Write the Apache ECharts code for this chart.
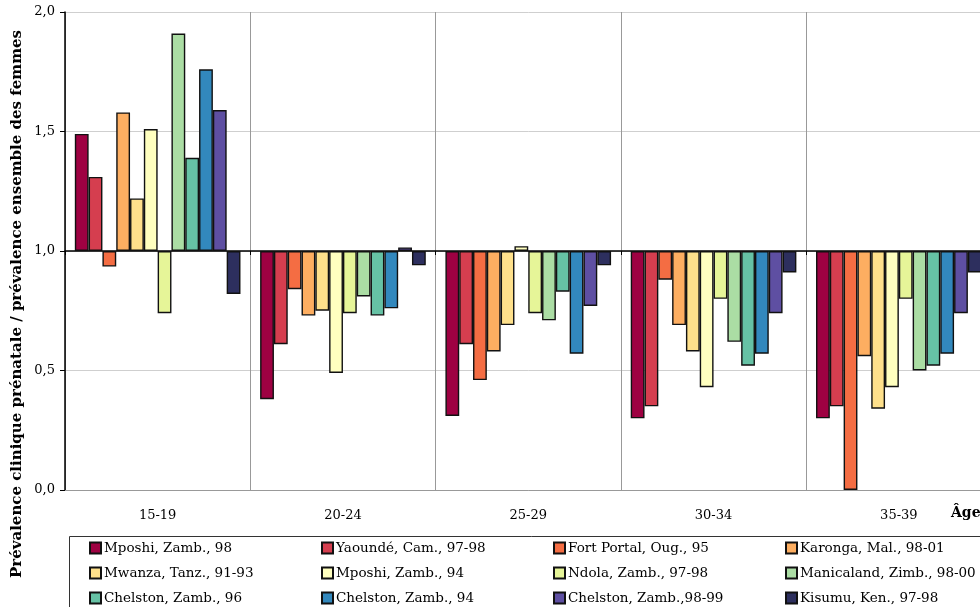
<!DOCTYPE html>
<html><head><meta charset="utf-8">
<script src="https://cdn.jsdelivr.net/npm/echarts@6/dist/echarts.min.js"></script>
<style>html,body{margin:0;padding:0;background:#fff;overflow:hidden;width:980px;height:607px}#c{width:992px;height:607px}</style>
</head><body><div id="c"></div>
<script>
const categories = ['15-19', '20-24', '25-29', '30-34', '35-39'];
const seriesNames = ['Mposhi, Zamb., 98', 'Yaoundé, Cam., 97-98', 'Fort Portal, Oug., 95', 'Karonga, Mal., 98-01',
  'Mwanza, Tanz., 91-93', 'Mposhi, Zamb., 94', 'Ndola, Zamb., 97-98', 'Manicaland, Zimb., 98-00',
  'Chelston, Zamb., 96', 'Chelston, Zamb., 94', 'Chelston, Zamb.,98-99', 'Kisumu, Ken., 97-98'];
const colors = ['#9e0142', '#d53e4f', '#f46d43', '#fdae61', '#fee08b', '#ffffbf', '#e6f598', '#abdda4',
  '#66c2a5', '#3288bd', '#5e4fa2', '#2d2f5e'];
const mposhi98 = [1.49, 0.38, 0.31, 0.30, 0.30];
const yaounde = [1.31, 0.61, 0.61, 0.35, 0.35];
const fortPortal = [0.935, 0.84, 0.46, 0.88, 0.0];
const karonga = [1.58, 0.73, 0.58, 0.69, 0.56];
const mwanza = [1.22, 0.75, 0.69, 0.58, 0.34];
const mposhi94 = [1.51, 0.49, 1.02, 0.43, 0.43];
const ndola = [0.74, 0.74, 0.74, 0.80, 0.80];
const manicaland = [1.91, 0.81, 0.71, 0.62, 0.50];
const chelston96 = [1.39, 0.73, 0.83, 0.52, 0.52];
const chelston94 = [1.76, 0.76, 0.57, 0.57, 0.57];
const chelston9899 = [1.59, 1.015, 0.77, 0.74, 0.74];
const kisumu = [0.82, 0.94, 0.94, 0.91, 0.91];
const seriesValues = [mposhi98, yaounde, fortPortal, karonga, mwanza, mposhi94, ndola, manicaland,
  chelston96, chelston94, chelston9899, kisumu];
const yTicks = ['0,0', '0,5', '1,0', '1,5', '2,0'];
const BASE = 1.0; // bars are drawn from the reference level 1,0

const FONT = 'DejaVu Serif';
const chart = echarts.init(document.getElementById('c'), null, {renderer: 'canvas'});
const series = seriesValues.map((vals, i) => ({
  name: seriesNames[i],
  type: 'bar',
  xAxisIndex: 0,
  data: vals.map(v => v - BASE),
  barGap: '0%',
  barCategoryGap: '10.6%',
  itemStyle: {color: colors[i], borderColor: '#111', borderWidth: 1.4},
  emphasis: {disabled: true},
  animation: false
}));
chart.setOption({
  animation: false,
  grid: {left: 65, right: 0.5, top: 12, bottom: 117, containLabel: false},
  xAxis: [{
    type: 'category', data: categories, position: 'bottom',
    axisLine: {onZero: false, lineStyle: {color: '#999', width: 1}},
    axisTick: {show: false},
    axisLabel: {margin: 19, color: '#000', fontFamily: FONT, fontSize: 13},
    splitLine: {show: true, lineStyle: {color: '#999', width: 1}}
  }, {
    type: 'category', data: categories, position: 'top',
    axisLine: {onZero: true, lineStyle: {color: '#000', width: 1.5}},
    axisTick: {show: true, inside: true, length: 4, lineStyle: {color: '#000'}},
    axisLabel: {show: false},
    splitLine: {show: false}
  }],
  yAxis: {
    type: 'value', min: -1, max: 1, interval: 0.5,
    axisLine: {show: true, lineStyle: {color: '#000', width: 1.5}},
    axisTick: {show: true, length: 5, lineStyle: {color: '#000'}},
    axisLabel: {margin: 10, color: '#000', fontFamily: FONT, fontSize: 13,
      formatter: v => yTicks[Math.round((v + 1) * 2)]},
    splitLine: {show: true, lineStyle: {color: '#cfcfcf', width: 1}}
  },
  legend: {
    data: seriesNames,
    left: 89, top: 540, width: 940,
    orient: 'horizontal',
    itemWidth: 11, itemHeight: 11, itemGap: 9,
    icon: 'rect',
    padding: 0,
    selectedMode: false,
    textStyle: {fontFamily: FONT, fontSize: 13.5, color: '#000', width: 208, lineHeight: 16, padding: [0, 0, 0, -2]}
  },
  graphic: [
    {type: 'rect', left: 67, top: 534, shape: {width: 1000, height: 100},
      style: {fill: 'none', stroke: '#333', lineWidth: 1}, z: -1},
    {type: 'text', x: 17, y: 304, rotation: Math.PI / 2,
      style: {text: 'Prévalence clinique prénatale / prévalence ensemble des femmes',
        font: 'bold 15px "DejaVu Serif"', fill: '#000', align: 'center', verticalAlign: 'middle'}},
    {type: 'text', x: 951, y: 513,
      style: {text: 'Âge', font: 'bold 14px "DejaVu Serif"', fill: '#000', align: 'left', verticalAlign: 'middle'}}
  ],
  series: series
});
</script></body></html>
